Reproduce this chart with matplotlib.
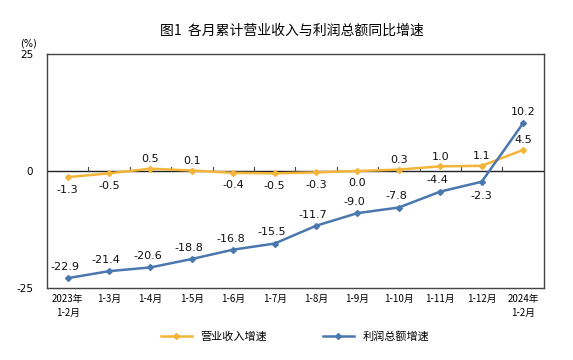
import matplotlib
matplotlib.use("Agg")
import matplotlib.pyplot as plt

plt.rcParams['font.family'] = ['Noto Sans CJK SC', 'DejaVu Sans']

categories = ["2023年\n1-2月", "1-3月", "1-4月", "1-5月", "1-6月", "1-7月", "1-8月",
              "1-9月", "1-10月", "1-11月", "1-12月", "2024年\n1-2月"]
revenue = [-1.3, -0.5, 0.5, 0.1, -0.4, -0.5, -0.3, 0.0, 0.3, 1.0, 1.1, 4.5]
profit = [-22.9, -21.4, -20.6, -18.8, -16.8, -15.5, -11.7, -9.0, -7.8, -4.4, -2.3, 10.2]
rev_pos = ['below', 'below', 'above', 'above', 'below', 'below', 'below', 'below',
           'above', 'above', 'above', 'above']
prof_pos = ['above'] * 10 + ['below', 'above']

yellow = '#F2B53A'
blue = '#4A78AE'

fig = plt.figure(figsize=(5.73, 3.6), dpi=100)
ax = fig.add_axes([0.082, 0.2, 0.867, 0.65])

x = list(range(len(categories)))
ax.plot(x, revenue, color=yellow, lw=1.8, marker='D', ms=3, label='营业收入增速', zorder=3)
ax.plot(x, profit, color=blue, lw=1.8, marker='D', ms=3, label='利润总额增速', zorder=3)

ax.axhline(0, color='#222222', lw=1.0, zorder=2)
for b in range(1, len(categories)):
    ax.plot([b - 0.5, b - 0.5], [0, 0.9], color='#444444', lw=0.8, zorder=2)

for i, (v, p) in enumerate(zip(revenue, rev_pos)):
    dy = 7 if p == 'above' else -9
    ax.annotate(f"{v:.1f}", (i, v), xytext=(0, dy), textcoords='offset points',
                ha='center', va='center', fontsize=8, family='DejaVu Sans', color='#111111')
for i, (v, p) in enumerate(zip(profit, prof_pos)):
    dx = 0
    dy = 8 if p == 'above' else -10
    if p == 'above' and i < 11:
        dx = -2
    ax.annotate(f"{v:.1f}", (i, v), xytext=(dx, dy), textcoords='offset points',
                ha='center', va='center', fontsize=8, family='DejaVu Sans', color='#111111')

ax.set_xlim(-0.5, len(categories) - 0.5)
ax.set_ylim(-25, 25)
ax.set_yticks([-25, 0, 25])
ax.set_yticklabels(['-25', '0', '25'], fontsize=7.5, family='DejaVu Sans')
ax.tick_params(axis='y', length=0, pad=10)
ax.set_xticks(x)
ax.set_xticklabels(categories, fontsize=7, linespacing=1.5)
ax.tick_params(axis='x', length=0, pad=4)
for s in ax.spines.values():
    s.set_color('#444444')
    s.set_linewidth(1.0)

fig.text(0.049, 0.878, '(%)', fontsize=7, ha='center', va='center', family='DejaVu Sans')
fig.text(0.51, 0.915, '图1  各月累计营业收入与利润总额同比增速', fontsize=10, ha='center', va='center')

fig.legend(loc='lower center', bbox_to_anchor=(0.515, 0.022), ncol=2, frameon=False,
           fontsize=8, columnspacing=5, handlelength=2.8)

fig.savefig('out.png', dpi=100)
